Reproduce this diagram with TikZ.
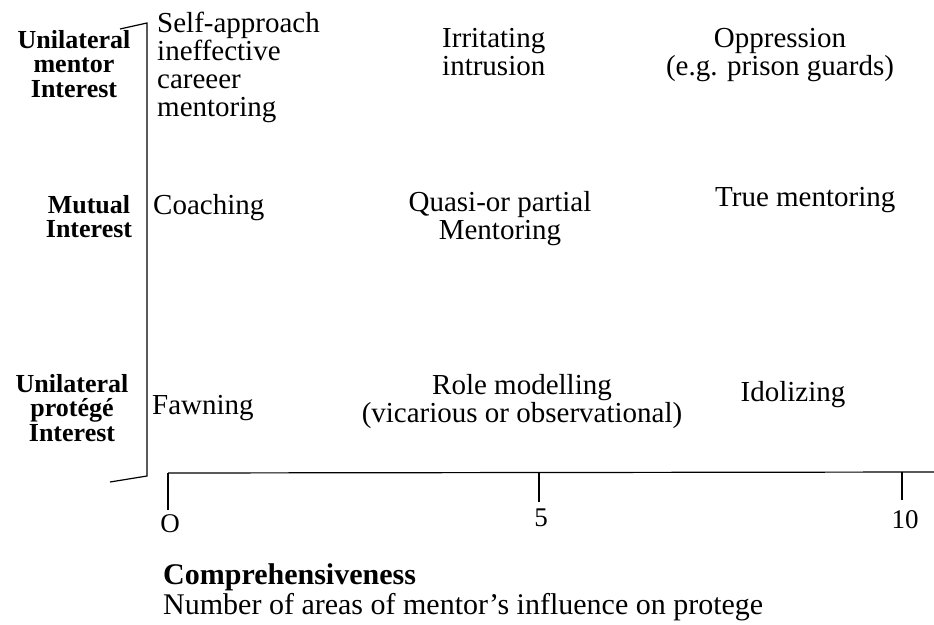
\documentclass[tikz,border=0pt]{standalone}
\usepackage{fontspec}
\setmainfont{Liberation Serif}
\usepackage{tikz}

\begin{document}
\begin{tikzpicture}[x=1pt,y=-1pt]
 \tikzstyle{cell} = [inner sep=0,align=left,font=\fontsize{29}{28}\selectfont]
 \tikzstyle{ccell} = [cell,align=center]
 \tikzstyle{rowlabel} = [inner sep=0,align=center,font=\fontsize{26}{24.5}\selectfont\bfseries]
 \tikzstyle{ticklabel} = [inner sep=0,font=\fontsize{27}{27}\selectfont]
 \tikzstyle{axis} = [line width=1.2pt]
 \useasboundingbox (0,0) rectangle (934,624);

% Axes (drawn by hand, as in the scan)
 \coordinate (yhook) at (120,29);
 \coordinate (ytop) at (147,23);
 \coordinate (ybot) at (147,476);
 \coordinate (yfoot) at (110,482);
 \draw[axis] (yhook) -- (ytop) -- (ybot) -- (yfoot);

 \coordinate (x0) at (168,473);
 \coordinate (xend) at (934,472);
 \coordinate (t0) at (168,510);
 \coordinate (x5) at (539,473);
 \coordinate (t5) at (539,502);
 \coordinate (x10) at (902,472);
 \coordinate (t10) at (902,500);
 \draw[axis] (x0) -- (xend);
 \draw[axis] (x0) -- (t0);
 \draw[axis] (x5) -- (t5);
 \draw[axis] (x10) -- (t10);

% Tick labels
 \node[ticklabel] (l0) at (170,524) {O};
 \node[ticklabel] (l5) at (541,518) {5};
 \node[ticklabel] (l10) at (905,520) {10};

% Axis titles
 \node[rowlabel,anchor=north] (umentor) at (74,30) {Unilateral\\mentor\\Interest};
 \node[rowlabel,anchor=north] (mutual) at (89,195) {Mutual\\Interest};
 \node[rowlabel,anchor=north] (uprotege) at (72,374) {Unilateral\\protégé\\Interest};
 \node[cell,anchor=north west,font=\fontsize{30}{30}\selectfont] (xtitle) at (163,563)
   {\textbf{Comprehensiveness}\\Number of areas of mentor's influence on protege};

% Cells: top row
 \node[cell,anchor=north west] (selfapp) at (157,12) {Self-approach\\ineffective\\careeer\\mentoring};
 \node[cell,anchor=north west] (irritating) at (442,28) {Irritating\\intrusion};
 \node[ccell,anchor=north] (oppression) at (780,28) {Oppression\\(e.g. prison guards)};

% Cells: middle row
 \node[cell,anchor=north west] (coaching) at (153,194) {Coaching};
 \node[ccell,anchor=north] (quasi) at (500,191) {Quasi-or partial\\Mentoring};
 \node[cell,anchor=north west] (truementor) at (715,187) {True mentoring};

% Cells: bottom row
 \node[cell,anchor=north west] (fawning) at (152,395) {Fawning};
 \node[ccell,anchor=north] (rolemodel) at (522,374) {Role modelling\\(vicarious or observational)};
 \node[cell,anchor=north] (idolizing) at (793,381) {Idolizing};
\end{tikzpicture}
\end{document}
